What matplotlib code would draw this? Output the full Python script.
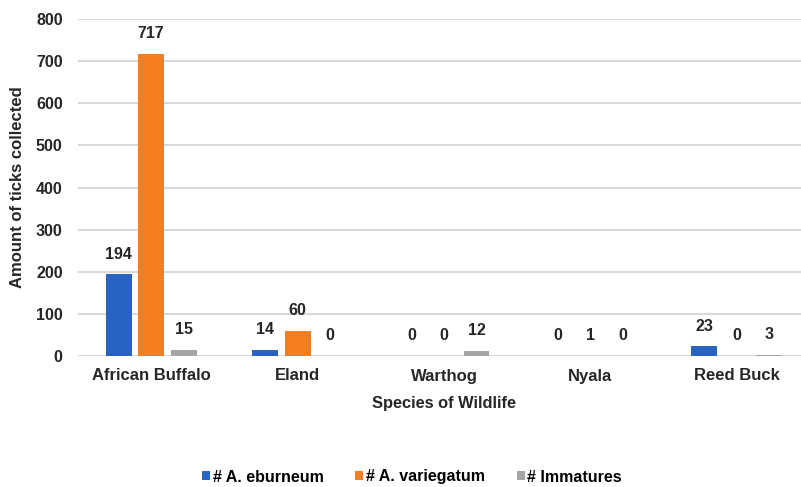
import matplotlib
matplotlib.use("Agg")
import matplotlib.pyplot as plt
import numpy as np

categories = ["African Buffalo", "Eland", "Warthog", "Nyala", "Reed Buck"]
series_names = ["# A. eburneum", "# A. variegatum", "# Immatures"]
eburneum = [194, 14, 0, 0, 23]
variegatum = [717, 60, 0, 1, 0]
immatures = [15, 0, 12, 0, 3]
yticks = [0, 100, 200, 300, 400, 500, 600, 700, 800]

colors = ["#2863C2", "#F47E20", "#A5A5A5"]

plt.rcParams['font.family'] = ['Liberation Sans', 'DejaVu Sans']
plt.rcParams['font.weight'] = 'bold'

fig = plt.figure(figsize=(8.01, 4.87), dpi=100)
W, H = 801, 487
left, right, bottom, top = 78, 810, 356, 19
ax = fig.add_axes([left / W, (H - bottom) / H, (right - left) / W, (bottom - top) / H])

x = np.arange(len(categories))
width = 0.177
offset = 0.222
for i, (vals, name, c) in enumerate(zip([eburneum, variegatum, immatures], series_names, colors)):
    pos = x + (i - 1) * offset
    ax.bar(pos, vals, width, color=c, label=name, zorder=3)
    for xp, v in zip(pos, vals):
        ax.annotate(str(v), (xp, v), xytext=(0, 14.5), textcoords='offset points',
                    ha='center', va='center', fontsize=11.5, fontweight='bold', color='#262626')

ax.set_xlim(-0.5, len(categories) - 0.5)
ax.set_ylim(0, 800)
ax.set_yticks(yticks)
ax.set_yticklabels([str(t) for t in yticks], fontsize=11.5, fontweight='bold', color='#262626')
ax.set_xticks(x)
ax.set_xticklabels(categories, fontsize=12, fontweight='bold', color='#262626')
ax.tick_params(axis='both', length=0)
ax.tick_params(axis='y', pad=11)
ax.tick_params(axis='x', pad=9)
ax.grid(axis='y', color='#D9D9D9', linewidth=1.5, zorder=0)
for s in ax.spines.values():
    s.set_visible(False)

ax.set_xlabel("Species of Wildlife", fontsize=11.8, fontweight='bold', color='#262626', labelpad=9)
ax.set_ylabel("Amount of ticks collected", fontsize=12, fontweight='bold', color='#262626', labelpad=8)

fig.legend(loc='center', bbox_to_anchor=(412 / W, (H - 477) / H), ncol=3, frameon=False,
           handlelength=0.5, handleheight=0.5, handletextpad=0.15, columnspacing=2.0,
           prop={'size': 11.5, 'weight': 'bold'})

fig.savefig("out.png", dpi=100)
